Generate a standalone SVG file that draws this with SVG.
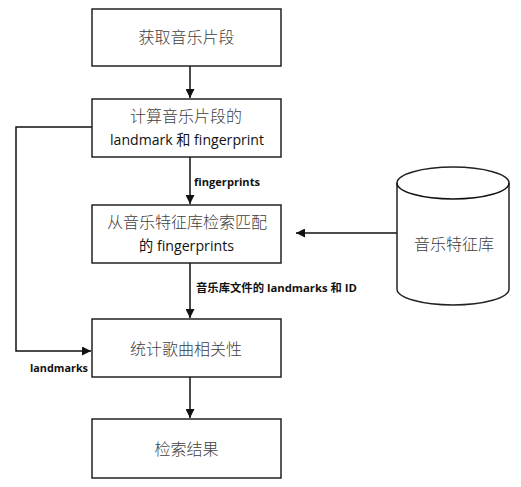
<svg xmlns="http://www.w3.org/2000/svg" width="521" height="487" viewBox="0 0 521 487">
<style>
.box{fill:#fff;stroke:#222;stroke-width:1.5}
.cn{font-family:"Noto Sans CJK SC","Noto Sans",sans-serif;font-size:16px;font-weight:300;fill:#404040}
.en{font-family:"Open Sans","Noto Sans CJK SC",sans-serif;font-size:15px;fill:#111}
.lbl{font-family:"Open Sans","Noto Sans CJK SC",sans-serif;font-size:11px;font-weight:bold;fill:#111}
.ln{fill:none;stroke:#111;stroke-width:1.5}
</style>
<defs>
<marker id="ah" viewBox="0 0 10 10" refX="10" refY="5" markerWidth="9" markerHeight="9" orient="auto" markerUnits="userSpaceOnUse">
<path d="M0,0 L10,5 L0,10 z" fill="#111"/>
</marker>
</defs>
<rect width="521" height="487" fill="#fff"/>
<g id="connectors">
<line class="ln" x1="190" y1="66" x2="190" y2="98" marker-end="url(#ah)"/>
<line class="ln" x1="190" y1="157" x2="190" y2="204" marker-end="url(#ah)"/>
<line class="ln" x1="190" y1="263" x2="190" y2="318" marker-end="url(#ah)"/>
<line class="ln" x1="190" y1="377" x2="190" y2="418" marker-end="url(#ah)"/>
<polyline class="ln" points="92,127 16,127 16,351 91,351" marker-end="url(#ah)"/>
<line class="ln" x1="397" y1="233" x2="296" y2="233" marker-end="url(#ah)"/>
<text class="lbl" x="194" y="186" textLength="66" lengthAdjust="spacingAndGlyphs">fingerprints</text>
<text class="lbl" x="196" y="292" textLength="161" lengthAdjust="spacingAndGlyphs">音乐库文件的 landmarks 和 ID</text>
<text class="lbl" x="30" y="372" textLength="58" lengthAdjust="spacingAndGlyphs">landmarks</text>
</g>
<g id="n1">
<rect class="box" x="92" y="9" width="189" height="57"/>
<text class="cn" x="186.5" y="43" text-anchor="middle">获取音乐片段</text>
</g>
<g id="n2">
<rect class="box" x="92" y="99" width="189" height="58"/>
<text class="cn" x="186" y="122" text-anchor="middle">计算音乐片段的</text>
<text class="en" x="110" y="145" textLength="154" lengthAdjust="spacingAndGlyphs">landmark 和 fingerprint</text>
</g>
<g id="n3">
<rect class="box" x="92" y="205" width="189" height="58"/>
<text class="cn" x="187" y="228" text-anchor="middle">从音乐特征库检索匹配</text>
<text class="en" x="139" y="251" textLength="95" lengthAdjust="spacingAndGlyphs">的 fingerprints</text>
</g>
<g id="n4">
<rect class="box" x="92" y="319" width="189" height="58"/>
<text class="cn" x="186" y="355" text-anchor="middle">统计歌曲相关性</text>
</g>
<g id="n5">
<rect class="box" x="92" y="419" width="189" height="59"/>
<text class="cn" x="186.5" y="455" text-anchor="middle">检索结果</text>
</g>
<g id="db">
<path class="box" d="M397,183 L397,289 A56,16 0 0 0 509,289 L509,183 A56,16 0 0 0 397,183 Z"/>
<path class="ln" d="M397,183 A56,16 0 0 0 509,183" stroke="#222"/>
<text class="cn" x="454" y="250" text-anchor="middle">音乐特征库</text>
</g>
</svg>
